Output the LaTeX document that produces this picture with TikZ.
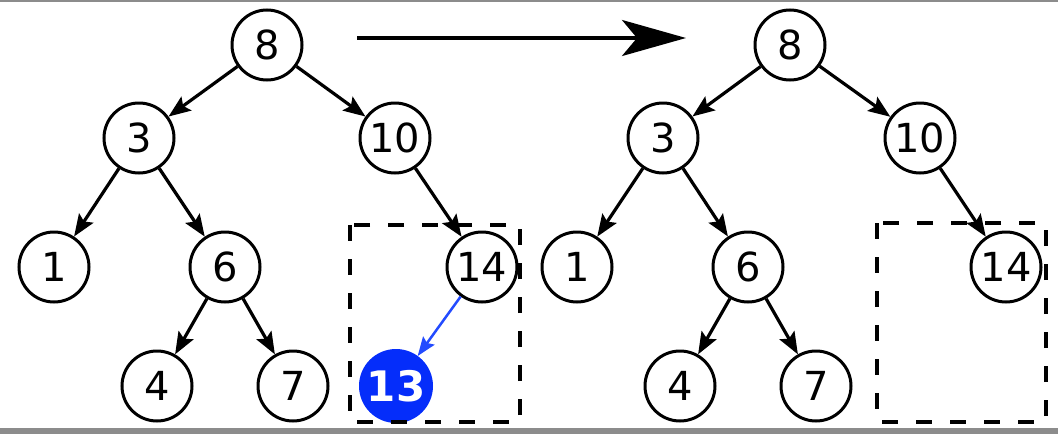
\documentclass[tikz,border=0pt]{standalone}
\usepackage{fontspec}
\setmainfont{DejaVu Sans}
\usetikzlibrary{arrows.meta}
\definecolor{delblue}{RGB}{5,45,250}
\definecolor{edgeblue}{RGB}{35,75,255}
\definecolor{framegray}{RGB}{140,140,140}
\begin{document}
\begin{tikzpicture}[x=1pt,y=-1pt,
  keynode/.style={circle,draw,line width=3pt,minimum size=70pt,inner sep=0pt,
    font=\fontsize{40}{42}\selectfont},
  delnode/.style={circle,fill=delblue,draw=delblue,line width=3pt,minimum size=71pt,inner sep=0pt,
    text=white,font=\fontsize{42}{44}\selectfont\bfseries},
  link/.style={line width=3.2pt,-{Stealth[length=22pt,width=17pt,inset=4pt]}},
  dellink/.style={edgeblue,line width=2.5pt,-{Stealth[length=19pt,width=14pt,inset=3pt]}},
  region/.style={line width=3.6pt,dash pattern=on 16pt off 18pt}]
  \useasboundingbox (0,0) rectangle (1058,434);
  % frame edges
  \fill[framegray] (0,0) rectangle (1058,2);
  \fill[framegray] (0,428) rectangle (1058,434);

  % tree before deletion
  \node[keynode] (L8)  at (267,45)  {8};
  \node[keynode] (L3)  at (139,138) {3};
  \node[keynode] (L10) at (395,138) {10};
  \node[keynode] (L1)  at (54,267)  {1};
  \node[keynode] (L6)  at (225,267) {6};
  \node[keynode] (L14) at (482,267) {14};
  \node[keynode] (L4)  at (157,386) {4};
  \node[keynode] (L7)  at (293,386) {7};
  \node[delnode] (L13) at (396,386) {13};
  \draw[link] (L8) -- (L3);
  \draw[link] (L8) -- (L10);
  \draw[link] (L3) -- (L1);
  \draw[link] (L3) -- (L6);
  \draw[link] (L10) -- (L14);
  \draw[link] (L6) -- (L4);
  \draw[link] (L6) -- (L7);
  \draw[dellink] (L14) -- (L13);
  \coordinate (LboxA) at (350,225);
  \coordinate (LboxB) at (520,422);
  \draw[region] (LboxA) rectangle (LboxB);

  % transition arrow
  \coordinate (ArrS) at (357,38);
  \coordinate (ArrE) at (686,38);
  \draw[line width=3.4pt,-{Stealth[length=64pt,width=36pt,inset=15pt]}] (ArrS) -- (ArrE);

  % tree after deletion
  \node[keynode] (R8)  at (790,45)  {8};
  \node[keynode] (R3)  at (663,138) {3};
  \node[keynode] (R10) at (920,138) {10};
  \node[keynode] (R1)  at (577,267) {1};
  \node[keynode] (R6)  at (748,267) {6};
  \node[keynode] (R14) at (1006,267) {14};
  \node[keynode] (R4)  at (680,386) {4};
  \node[keynode] (R7)  at (816,386) {7};
  \draw[link] (R8) -- (R3);
  \draw[link] (R8) -- (R10);
  \draw[link] (R3) -- (R1);
  \draw[link] (R3) -- (R6);
  \draw[link] (R10) -- (R14);
  \draw[link] (R6) -- (R4);
  \draw[link] (R6) -- (R7);
  \coordinate (RboxA) at (877,223);
  \coordinate (RboxB) at (1046,422);
  \draw[region] (RboxA) rectangle (RboxB);
\end{tikzpicture}
\end{document}
